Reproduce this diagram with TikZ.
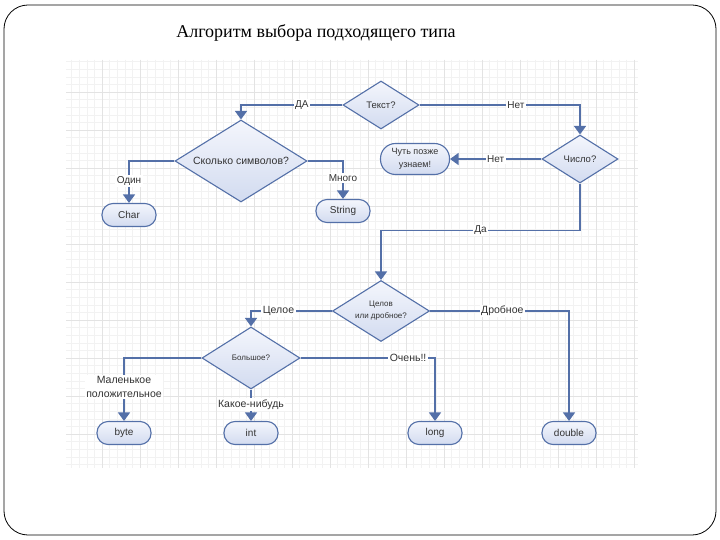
\documentclass[tikz,border=0pt]{standalone}
\usepackage{fontspec}
\setmainfont{Liberation Serif}
\setsansfont{Liberation Sans}
\usetikzlibrary{shapes.geometric,arrows.meta}
\definecolor{flowblue}{HTML}{5470A8}
\definecolor{fillhi}{HTML}{F4F6FC}
\definecolor{filllo}{HTML}{D2DBF0}
\definecolor{txtgray}{HTML}{333333}
\begin{document}
\begin{tikzpicture}[x=1pt,y=-1pt,
	decision/.style={diamond,aspect=2,draw=flowblue,line width=1.1pt,top color=fillhi,bottom color=filllo,
		inner sep=0pt,text=txtgray,align=center,font=\sffamily\fontsize{9.5}{11}\selectfont},
	terminal/.style={rectangle,draw=flowblue,line width=1.1pt,top color=fillhi,bottom color=filllo,
		rounded corners=11pt,minimum width=54pt,minimum height=23pt,inner sep=1pt,
		text=txtgray,align=center,font=\sffamily\fontsize{10}{12}\selectfont},
	flow/.style={draw=flowblue,line width=1.4pt,-{Triangle[width=12pt,length=8.5pt]}},
	lbl/.style={fill=white,inner sep=1.5pt,text=txtgray,font=\sffamily\fontsize{10}{12}\selectfont},
	biglbl/.style={lbl,align=center,font=\sffamily\fontsize{10.5}{14}\selectfont},
	gridminor/.style={gray!10,line width=0.5pt},
	gridmajor/.style={gray!22,line width=0.6pt}]
	\useasboundingbox (0,0) rectangle (720,540);
	\fill[white] (0,0) rectangle (720,540);
	\foreach\k in{1,...,75}{\draw[gridminor] ({64+7.6*\k},60) -- ({64+7.6*\k},468);}
	\foreach\k in{1,...,54}{\draw[gridminor] (66,{54+7.6*\k}) -- (638,{54+7.6*\k});}
	\foreach\k in{1,...,15}{\draw[gridmajor] ({64+38*\k},60) -- ({64+38*\k},468);}
	\foreach\k in{1,...,10}{\draw[gridmajor] (66,{54+38*\k}) -- (638,{54+38*\k});}
	\draw[black,line width=0.8pt,rounded corners=24pt] (4,5) rectangle (716,535);
	\node[font=\fontsize{18}{20}\selectfont] (title) at (316,33) {Алгоритм выбора подходящего типа};
	\node[decision,minimum width=76pt,minimum height=48pt] (tekst) at (381,105) {Текст?};
	\node[decision,minimum width=132pt,minimum height=82pt,font=\sffamily\fontsize{10.5}{12}\selectfont] (skolko) at (241,161) {Сколько символов?};
	\node[decision,minimum width=76pt,minimum height=48pt] (chislo) at (580,159) {Число?};
	\node[terminal,minimum width=69pt,minimum height=31pt,rounded corners=15pt,font=\sffamily\fontsize{9}{13}\selectfont] (pozzhe) at (415,159) {Чуть позже\\узнаем!};
	\node[terminal] (char) at (129,215) {Char};
	\node[terminal] (string) at (343,211) {String};
	\node[decision,minimum width=97pt,minimum height=61pt,font=\sffamily\fontsize{8}{12}\selectfont] (celoe) at (381,311) {Целов\\или дробное?};
	\node[decision,minimum width=98pt,minimum height=62pt,font=\sffamily\fontsize{8}{10}\selectfont] (bolshoe) at (251,358) {Большое?};
	\node[terminal] (byte) at (124,433) {byte};
	\node[terminal] (int) at (251,433) {int};
	\node[terminal] (long) at (435,433) {long};
	\node[terminal] (double) at (569,433) {double};
	\draw[flow] (tekst.west) -| node[lbl,pos=0.2] {ДА} (skolko.north);
	\draw[flow] (tekst.east) -| node[lbl,pos=0.3] {Нет} (chislo.north);
	\draw[flow] (chislo.west) -- node[lbl] {Нет} (pozzhe.east);
	\draw[flow] (chislo.south) -- ++(0,47) -| node[lbl,pos=0.25] {Да} (celoe.north);
	\draw[flow] (skolko.west) -| node[lbl,pos=0.74] {Один} (char.north);
	\draw[flow] (skolko.east) -| node[lbl,pos=0.72] {Много} (string.north);
	\draw[flow] (celoe.west) -| node[biglbl,pos=0.33] {Целое} (bolshoe.north);
	\draw[flow] (celoe.east) -| node[biglbl,pos=0.26] {Дробное} (double.north);
	\draw[flow] (bolshoe.west) -| node[biglbl,pos=0.73] {Маленькое\\положительное} (byte.north);
	\draw[flow] (bolshoe.south) -- node[biglbl,pos=0.48] {Какое-нибудь} (int.north);
	\draw[flow] (bolshoe.east) -| node[biglbl,pos=0.4] {Очень!!} (long.north);
\end{tikzpicture}
\end{document}
